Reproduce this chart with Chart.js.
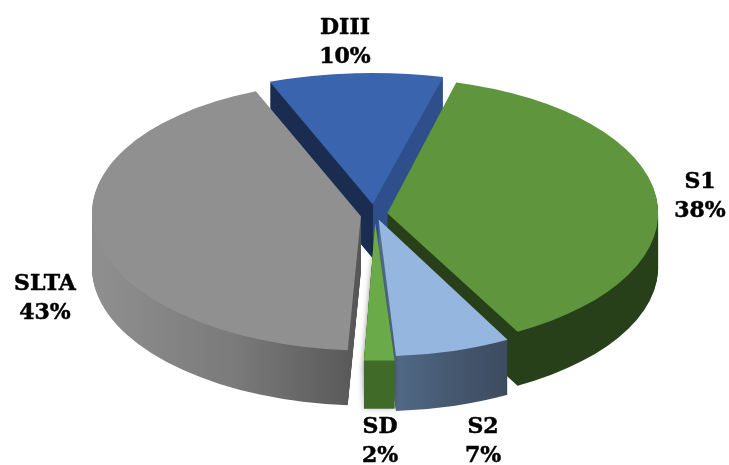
<!DOCTYPE html>
<html>
<head>
<meta charset="utf-8">
<style>
  html, body { margin: 0; padding: 0; background: #fff; }
  canvas { display: block; }
</style>
</head>
<body>
<canvas id="grafico" width="729" height="465"></canvas>
<script src="https://cdn.jsdelivr.net/npm/chart.js@4/dist/chart.umd.min.js"></script>
<script>
const categories = ['S1', 'S2', 'SD', 'SLTA', 'DIII'];
const values = [38, 7, 2, 43, 10];

const topColors = ['#5f963d', '#95b6de', '#6aaa48', '#909090', '#3a64ae'];
const sideColors = [
  [[0, '#27401a'], [1, '#27401a']],
  [[0, '#55708f'], [0.5, '#465a72'], [1, '#3c4a5e']],
  [[0, '#3f6a28'], [1, '#3f6a28']],
  [[0, '#8e8e8e'], [0.5, '#7a7a7a'], [1, '#555555']],
  [[0, '#1a2c50'], [0.4999, '#1a2c50'], [0.5, '#2e4f8c'], [1, '#2e4f8c']]
];
// side gradient range, as a fraction of the radius either side of the centre
const sideSpan = [[-1, 1], [0, 0.5], [-1, 1], [-1, 0], [-0.5, 0.5]];
const explode = [40, 40, 53, 47, 67];
const drawOrder = [4, 3, 0, 1, 2];

// where the flat pie gets squashed to on the page
const pie = { cx: 375, cy: 214, rx: 268, ry: 133 };

// per slice fixes for the perspective of the original
const depths = [54, 55, 48, 55, 54];
const nudge = [[-1, 0], [0, -1], [0, 0], [1, 1], [-1, 1]];
const stretch = [[0.995, 1], [0.985, 1], [1, 0.98], [0.97, 0.978], [1.03, 0.955]];
const shear = [0, 0, 0.036, 0.045, 0];

const labelAt = [
  [700, 182], [483, 427], [380, 427], [45, 284], [345, 28]
];

const squash = (ctx, el, i, dy) => {
  const r = el.outerRadius;
  ctx.translate(pie.cx + nudge[i][0], pie.cy + nudge[i][1] + dy);
  ctx.transform(1, 0, shear[i], 1, 0, 0);
  ctx.scale(pie.rx / r * stretch[i][0], pie.ry / r * stretch[i][1]);
  ctx.translate(-el.x, -el.y);
};

const pie3d = {
  id: 'pie3d',
  beforeDatasetsDraw(chart) {
    const ctx = chart.ctx;
    const arcs = chart.getDatasetMeta(0).data;
    drawOrder.forEach(i => {
      const el = arcs[i];
      const r = el.outerRadius;
      const grad = ctx.createLinearGradient(el.x + sideSpan[i][0] * r, 0, el.x + sideSpan[i][1] * r, 0);
      sideColors[i].forEach(s => grad.addColorStop(s[0], s[1]));
      const saved = el.options;
      el.options = { ...saved, backgroundColor: grad, borderWidth: 0 };
      // soft glow round the thin slice, laid down before its side
      if (i === 2) {
        for (let d = depths[i]; d > 0; d -= 12) {
          ctx.save();
          squash(ctx, el, i, d);
          ctx.shadowColor = 'rgba(0,0,0,0.25)';
          ctx.shadowBlur = 7;
          el.draw(ctx);
          ctx.restore();
        }
      }
      for (let d = depths[i]; d > 0; d--) {
        ctx.save();
        squash(ctx, el, i, d);
        el.draw(ctx);
        ctx.restore();
      }
      el.options = saved;
    });
    // tops are drawn by the library, so wrap each one in its own squash
    arcs.forEach((el, i) => {
      ctx.save();
      squash(ctx, el, i, 0);
      el.draw(ctx);
      ctx.restore();
    });
    return false;
  },
  afterDraw(chart) {
    const ctx = chart.ctx;
    ctx.fillStyle = '#000';
    ctx.strokeStyle = '#000';
    ctx.lineWidth = 0.5;
    ctx.font = 'bold 22px "DejaVu Serif"';
    ctx.textAlign = 'center';
    ctx.textBaseline = 'middle';
    categories.forEach((c, i) => {
      const pct = values[i] + '%';
      ctx.fillText(c, labelAt[i][0], labelAt[i][1]);
      ctx.strokeText(c, labelAt[i][0], labelAt[i][1]);
      ctx.fillText(pct, labelAt[i][0], labelAt[i][1] + 29);
      ctx.strokeText(pct, labelAt[i][0], labelAt[i][1] + 29);
    });
  }
};

new Chart(document.getElementById('grafico'), {
  type: 'pie',
  data: {
    labels: categories,
    datasets: [{
      data: values,
      backgroundColor: topColors,
      borderWidth: 0,
      offset: explode
    }]
  },
  options: {
    responsive: false,
    animation: false,
    rotation: 14.6,
    events: [],
    layout: { padding: 0 },
    plugins: {
      legend: { display: false },
      tooltip: { enabled: false }
    }
  },
  plugins: [pie3d]
});
</script>
</body>
</html>
